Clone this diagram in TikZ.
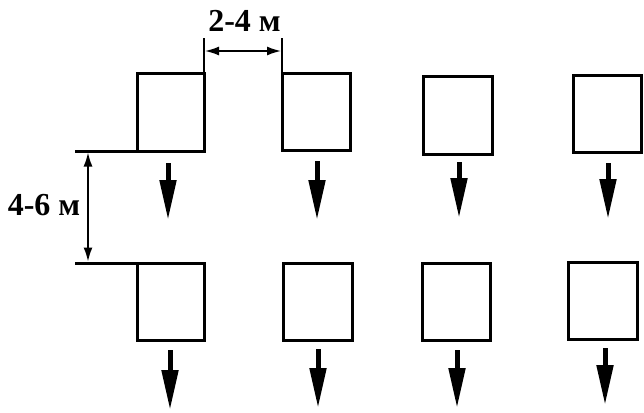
\documentclass[tikz,border=0pt]{standalone}
\usepackage{fontspec}
\setmainfont{Liberation Serif}
\usetikzlibrary{arrows.meta}

\tikzset{
  plot/.style={draw=black, line width=3pt, fill=white, inner sep=0pt,
               outer sep=0pt, minimum width=#1},
  plot/.default=68pt,
  wall/.style={draw=black, line width=3pt},
  extline/.style={draw=black, line width=2pt},
  dimarrow/.style={draw=black, line width=1.6pt,
                   {Latex[length=14pt,width=9pt]}-{Latex[length=14pt,width=9pt]}},
  flow/.style={draw=black, line width=5pt,
               -{Triangle[length=40pt,width=16pt]}},
  dimlabel/.style={font=\bfseries\fontsize{32}{32}\selectfont, inner sep=0pt}
}

\begin{document}
\begin{tikzpicture}[x=1pt, y=-1pt]
  \useasboundingbox (0,0) rectangle (644,412);

  % upper row of plots
  \node[plot=67pt, minimum height=78pt] (b1) at (170.5,112)   {};
  \node[plot=68pt, minimum height=77pt] (b2) at (316,111.5)   {};
  \node[plot=69pt, minimum height=78pt] (b3) at (457.5,115)   {};
  \node[plot=68pt, minimum height=77pt] (b4) at (607,113.5)   {};

  % lower row of plots
  \node[plot=67pt, minimum height=77pt] (c1) at (170.5,301.5) {};
  \node[plot=69pt, minimum height=77pt] (c2) at (317.5,301.5) {};
  \node[plot=68pt, minimum height=77pt] (c3) at (456,301.5)   {};
  \node[plot=69pt, minimum height=77pt] (c4) at (602.5,300.5) {};

  % row base lines running out to the left
  \coordinate (ra) at (75,151);
  \coordinate (rb) at (75,263);
  \draw[wall] (ra) -- (b1.south west);
  \draw[wall] (rb) -- (c1.north west);

  % extension lines for the gap between plots
  \coordinate (ea) at (204,38);
  \coordinate (eb) at (282,38);
  \draw[extline] (b1.north east) -- (ea);
  \draw[extline] (b2.north west) -- (eb);

  % gap between plots: 2-4 m
  \coordinate (ga) at (205,51);
  \coordinate (gb) at (281,51);
  \draw[dimarrow] (ga) -- (gb);
  \node[dimlabel] (gl) at (244.5,21) {2-4 м};

  % spacing between rows: 4-6 m
  \coordinate (ha) at (88,152.5);
  \coordinate (hb) at (88,261.5);
  \draw[dimarrow] (ha) -- (hb);
  \node[dimlabel] (hl) at (44,205) {4-6 м};

  % slope direction arrows, upper row
  \coordinate (a1s) at (168,163); \coordinate (a1e) at (168,220);
  \coordinate (a2s) at (317,161); \coordinate (a2e) at (317,220);
  \coordinate (a3s) at (459,162); \coordinate (a3e) at (459,218);
  \coordinate (a4s) at (608,163); \coordinate (a4e) at (608,219);
  \draw[flow] (a1s) -- (a1e);
  \draw[flow] (a2s) -- (a2e);
  \draw[flow] (a3s) -- (a3e);
  \draw[flow] (a4s) -- (a4e);

  % slope direction arrows, lower row
  \coordinate (d1s) at (170,350); \coordinate (d1e) at (170,410);
  \coordinate (d2s) at (318,349); \coordinate (d2e) at (318,408);
  \coordinate (d3s) at (457,350); \coordinate (d3e) at (457,408);
  \coordinate (d4s) at (605,348); \coordinate (d4e) at (605,405);
  \draw[flow] (d1s) -- (d1e);
  \draw[flow] (d2s) -- (d2e);
  \draw[flow] (d3s) -- (d3e);
  \draw[flow] (d4s) -- (d4e);
\end{tikzpicture}
\end{document}
